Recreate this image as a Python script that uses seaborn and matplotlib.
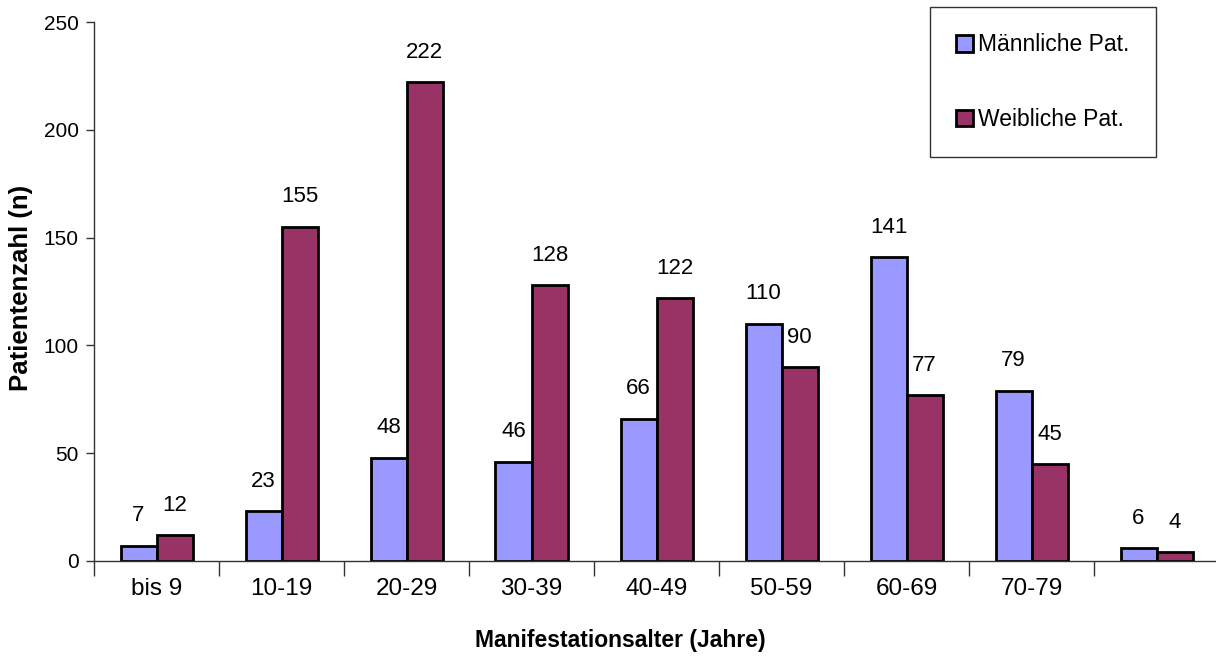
import matplotlib
matplotlib.use("Agg")
import matplotlib.pyplot as plt
import seaborn as sns
import pandas as pd

# Age groups at onset and patient counts per sex
age_groups = ["bis 9", "10-19", "20-29", "30-39", "40-49", "50-59", "60-69", "70-79", "80+"]
tick_labels = ["bis 9", "10-19", "20-29", "30-39", "40-49", "50-59", "60-69", "70-79", ""]
male = [7, 23, 48, 46, 66, 110, 141, 79, 6]
female = [12, 155, 222, 128, 122, 90, 77, 45, 4]
series_names = ["Männliche Pat.", "Weibliche Pat."]
colors = ["#9999FF", "#993366"]

df = pd.DataFrame({
    "Alter": age_groups * 2,
    "Anzahl": male + female,
    "Geschlecht": [series_names[0]] * len(male) + [series_names[1]] * len(female),
})

sns.set_theme(style="white")
plt.rcParams["font.family"] = ["Liberation Sans", "DejaVu Sans"]

fig = plt.figure(figsize=(12.16, 6.6), dpi=100)
ax = fig.add_axes([94 / 1216, 1 - 561 / 660, 1125 / 1216, 539 / 660])

sns.barplot(data=df, x="Alter", y="Anzahl", hue="Geschlecht", order=age_groups,
            hue_order=series_names, palette=colors, width=0.576, saturation=1,
            edgecolor="black", linewidth=2.0, ax=ax, legend=True)

for cont in ax.containers:
    ax.bar_label(cont, padding=14, fontsize=16, color="black")

ax.set_xlim(-0.5, len(age_groups) - 0.5)
ax.set_ylim(0, 250)
ax.set_yticks([0, 50, 100, 150, 200, 250])
ax.set_xticks(range(len(age_groups)))
ax.set_xticklabels(tick_labels, fontsize=17.5)
ax.tick_params(axis="x", which="major", length=0, pad=12)
ax.set_xticks([i - 0.5 for i in range(len(age_groups))], minor=True)
ax.tick_params(axis="x", which="minor", length=11, width=1, color="#333333", direction="out",
               bottom=True)
ax.tick_params(axis="y", length=6, width=1, color="#333333", direction="out", left=True,
               labelsize=15, pad=5)
for lab in ax.get_xticklabels() + ax.get_yticklabels():
    lab.set_color("black")

for s in ["top", "right"]:
    ax.spines[s].set_visible(False)
for s in ["left", "bottom"]:
    ax.spines[s].set_color("#333333")
    ax.spines[s].set_linewidth(1)

ax.set_xlabel("")
ax.set_ylabel("")
fig.text(620 / 1216, 1 - 640 / 660, "Manifestationsalter (Jahre)", ha="center", va="center",
         fontsize=16.5, fontweight="bold", color="black")
fig.text(21 / 1216, 1 - 288 / 660, "Patientenzahl (n)", ha="center", va="center",
         rotation=90, fontsize=18.5, fontweight="bold", color="black")

handles, labels = ax.get_legend_handles_labels()
leg = ax.legend(handles, labels, loc="upper left", bbox_to_anchor=(930 / 1216, 1 - 7 / 660),
                bbox_transform=fig.transFigure, frameon=True, fancybox=False, edgecolor="black",
                fontsize=16.5, handlelength=0.74, handleheight=0.74, handletextpad=0.2,
                labelspacing=2.25, borderpad=1.15, borderaxespad=0)
leg.get_frame().set_linewidth(1)
for t in leg.get_texts():
    t.set_color("black")

fig.savefig("out.png", dpi=100, facecolor="white")
